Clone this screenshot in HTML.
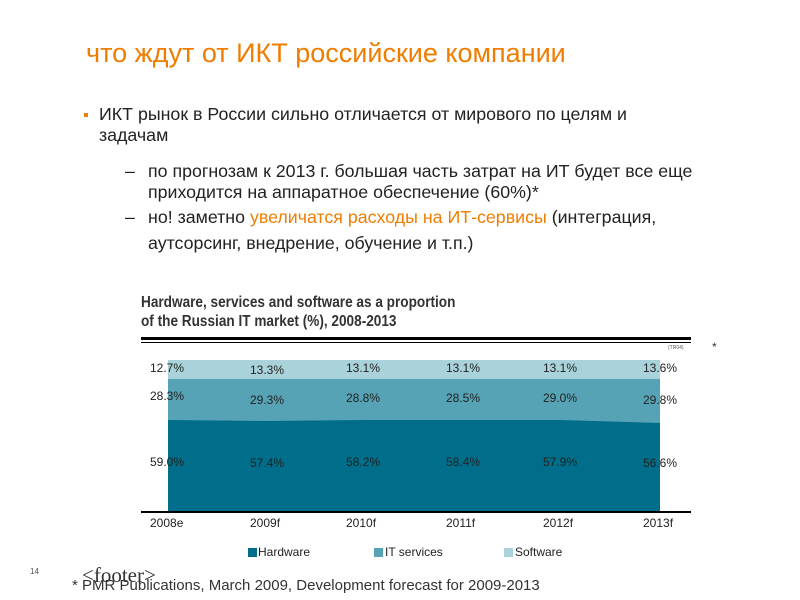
<!DOCTYPE html>
<html><head><meta charset="utf-8"><style>
body{margin:0;width:800px;height:600px;background:#fff;position:relative;overflow:hidden;font-family:"Liberation Sans",sans-serif;}
.a{position:absolute;white-space:nowrap}
.t{font-size:17.8px;color:#222;line-height:21px}
.c{font-size:12px;color:#222}
</style></head><body>
<div class="a" style="left:86px;top:38px;font-size:27px;color:#f07d00">что ждут от ИКТ российские компании</div>
<div class="a" style="left:84px;top:113px;width:4px;height:4px;background:#f07d00"></div>
<div class="a t" style="left:99px;top:104px">ИКТ рынок в России сильно отличается от мирового по целям и<br>задачам</div>
<div class="a t" style="left:125px;top:161px">–</div>
<div class="a t" style="left:148px;top:161px">по прогнозам к 2013 г. большая часть затрат на ИТ будет все еще<br>приходится на аппаратное обеспечение (60%)*</div>
<div class="a t" style="left:125px;top:207px">–</div>
<div class="a t" style="left:148px;top:207px">но! заметно <span style="color:#f07d00">увеличатся расходы на ИТ-сервисы</span> (интеграция,</div>
<div class="a t" style="left:148px;top:233px">аутсорсинг, внедрение, обучение и т.п.)</div>
<div class="a" style="left:141px;top:293px;font-size:16px;font-weight:bold;color:#333;line-height:19px;transform:scaleX(0.85);transform-origin:0 0">Hardware, services and software as a proportion<br>of the Russian IT market (%), 2008-2013</div>
<div class="a" style="left:141px;top:337px;width:550px;height:3px;background:#000"></div>
<div class="a" style="left:141px;top:342px;width:550px;height:1px;background:#000"></div>
<div class="a" style="left:668px;top:345px;font-size:5px;color:#555">(TR04)</div>
<div class="a" style="left:712px;top:340px;font-size:12px;color:#333">*</div>
<svg class="a" style="left:0;top:0" width="800" height="600">
<rect x="168" y="360" width="492" height="152" fill="#a9d2da"/>
<polygon points="168,379 660,379 660,511 168,511" fill="#56a3b5"/>
<polygon points="168,420 265,421 365,420 460,420 560,420 660,423 660,511 168,511" fill="#006e8a"/>
<rect x="141" y="511" width="550" height="2" fill="#000"/>
<rect x="248" y="548" width="9" height="9" fill="#006e8a"/>
<rect x="374" y="548" width="9" height="9" fill="#56a3b5"/>
<rect x="504" y="548" width="9" height="9" fill="#a9d2da"/>
</svg>
<div class="a c" style="left:150px;top:361px">12.7%</div><div class="a c" style="left:250px;top:363px">13.3%</div><div class="a c" style="left:346px;top:361px">13.1%</div><div class="a c" style="left:446px;top:361px">13.1%</div><div class="a c" style="left:543px;top:361px">13.1%</div><div class="a c" style="left:643px;top:361px">13.6%</div>
<div class="a c" style="left:150px;top:389px">28.3%</div><div class="a c" style="left:250px;top:393px">29.3%</div><div class="a c" style="left:346px;top:391px">28.8%</div><div class="a c" style="left:446px;top:391px">28.5%</div><div class="a c" style="left:543px;top:391px">29.0%</div><div class="a c" style="left:643px;top:393px">29.8%</div>
<div class="a c" style="left:150px;top:455px">59.0%</div><div class="a c" style="left:250px;top:456px">57.4%</div><div class="a c" style="left:346px;top:455px">58.2%</div><div class="a c" style="left:446px;top:455px">58.4%</div><div class="a c" style="left:543px;top:455px">57.9%</div><div class="a c" style="left:643px;top:456px">56.6%</div>
<div class="a c" style="left:150px;top:516px">2008e</div><div class="a c" style="left:250px;top:516px">2009f</div><div class="a c" style="left:346px;top:516px">2010f</div><div class="a c" style="left:446px;top:516px">2011f</div><div class="a c" style="left:543px;top:516px">2012f</div><div class="a c" style="left:643px;top:516px">2013f</div>
<div class="a c" style="left:258px;top:545px">Hardware</div><div class="a c" style="left:385px;top:545px">IT services</div><div class="a c" style="left:515px;top:545px">Software</div>
<div class="a" style="left:30px;top:567px;font-size:8px;color:#555">14</div>
<div class="a" style="left:72px;top:577px;font-size:15px;color:#333">* PMR Publications, March 2009, Development forecast for 2009-2013</div>
<div class="a" style="left:82px;top:563px;font-family:'Liberation Serif',serif;font-size:21px;color:#333">&lt;footer&gt;</div>
</body></html>
